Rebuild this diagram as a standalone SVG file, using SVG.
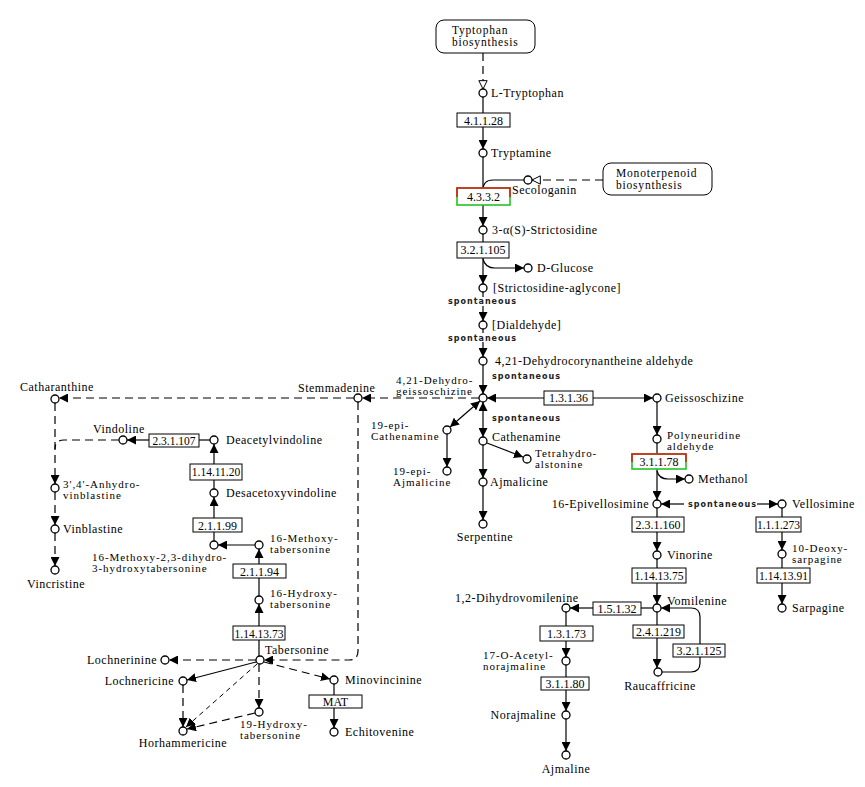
<svg xmlns="http://www.w3.org/2000/svg" width="865" height="787" viewBox="0 0 865 787">
<style>
text{font-family:"Liberation Serif","Times New Roman",serif;font-size:12px;letter-spacing:0.5px;fill:#000}
.t2{font-size:11px;letter-spacing:0.95px}
.mpt{font-size:11.5px;letter-spacing:0.8px}
.ec{font-size:12px;letter-spacing:0;text-anchor:middle}
.ecs{font-size:11.5px}
.m{text-anchor:middle}
.r{text-anchor:end}
.sp{font-family:"DejaVu Sans","Liberation Sans",sans-serif;font-size:8px;font-weight:bold;letter-spacing:1px;fill:#222}
circle{fill:#fff;stroke:#000;stroke-width:1.3}
.bx{fill:#fff;stroke:#000;stroke-width:1}
.hl{fill:#fff;stroke:#22c322;stroke-width:1.6}
.hr{fill:none;stroke:#e01818;stroke-width:1.6}
#connectors path{fill:none;stroke:#000;stroke-width:1.2}
#connectors .d{stroke-dasharray:8,5}
#connectors .dt{stroke-dasharray:5,4;stroke-width:1}
</style>
<defs>
<marker id="a" viewBox="0 0 10 10" refX="10" refY="5" markerWidth="9" markerHeight="9" markerUnits="userSpaceOnUse" orient="auto-start-reverse"><path d="M0,0 L10,5 L0,10 z" fill="#000" stroke="none"/></marker>
<marker id="o" viewBox="0 0 12 12" refX="11" refY="6" markerWidth="10" markerHeight="10" markerUnits="userSpaceOnUse" orient="auto"><path d="M1,1 L11,6 L1,11 z" fill="#fff" stroke="#000" stroke-width="1.2" stroke-dasharray="none"/></marker>
</defs>
<g id="connectors">
<path class="d" d="M483,53 V89" marker-end="url(#o)"/>
<path d="M483,97 V113"/>
<path d="M483,127 V149" marker-end="url(#a)"/>
<path d="M483,157 V188"/>
<path class="d" d="M603,180 H532" marker-end="url(#o)"/>
<path d="M524,180 H493 Q483,180 483,190"/>
<path d="M483,205 V226" marker-end="url(#a)"/>
<path d="M483,234 V242"/>
<path d="M483,258 V284" marker-end="url(#a)"/>
<path d="M483,259 Q485,268 495,268 H524" marker-end="url(#a)"/>
<path d="M483,292 V297"/>
<path d="M483,306 V321" marker-end="url(#a)"/>
<path d="M483,329 V333"/>
<path d="M483,342 V357" marker-end="url(#a)"/>
<path d="M483,365 V394" marker-end="url(#a)"/>
<path class="d" d="M479,398 H362" marker-end="url(#a)"/>
<path class="d" d="M354,398 H59" marker-end="url(#a)"/>
<path d="M544,398 H487" marker-end="url(#a)"/>
<path d="M593,398 H653" marker-end="url(#a)"/>
<path class="d" d="M358,402 V651 Q358,660 349,660 H264" marker-end="url(#a)"/>
<path d="M483,402 V437" marker-start="url(#a)" marker-end="url(#a)"/>
<path d="M450,427 L480,401" marker-start="url(#a)" marker-end="url(#a)"/>
<path d="M447,434 V467" marker-end="url(#a)"/>
<path d="M487,443 L523,457" marker-end="url(#a)"/>
<path d="M483,445 V478" marker-end="url(#a)"/>
<path d="M483,486 V520" marker-end="url(#a)"/>
<path d="M657,402 V435" marker-end="url(#a)"/>
<path d="M657,443 V454"/>
<path d="M657,469 V500" marker-end="url(#a)"/>
<path d="M657,471 Q659,479 668,479 H685" marker-end="url(#a)"/>
<path d="M684,504 H661" marker-end="url(#a)"/>
<path d="M757,504 H778" marker-end="url(#a)"/>
<path d="M657,508 V517"/>
<path d="M657,532 V551" marker-end="url(#a)"/>
<path d="M657,559 V568"/>
<path d="M657,583 V604" marker-end="url(#a)"/>
<path d="M782,508 V517"/>
<path d="M782,532 V550" marker-end="url(#a)"/>
<path d="M782,558 V568"/>
<path d="M782,583 V604" marker-end="url(#a)"/>
<path d="M653,608 H641"/>
<path d="M593,608 H570" marker-end="url(#a)"/>
<path d="M566,612 V626"/>
<path d="M566,641 V657" marker-end="url(#a)"/>
<path d="M566,665 V677"/>
<path d="M566,690 V711" marker-end="url(#a)"/>
<path d="M566,719 V751" marker-end="url(#a)"/>
<path d="M657,612 V625"/>
<path d="M657,638 V668" marker-end="url(#a)"/>
<path d="M662,672 H691 Q700,672 700,663 V617 Q700,608 691,608 H661" marker-end="url(#a)"/>
<path class="d" d="M55,403 V484" marker-end="url(#a)"/>
<path class="d" d="M119,440 H64 Q55,440 55,449"/>
<path class="d" d="M55,492 V525" marker-end="url(#a)"/>
<path class="d" d="M55,533 V566" marker-end="url(#a)"/>
<path d="M149,440 H127" marker-end="url(#a)"/>
<path d="M199,440 H210"/>
<path d="M214,464 V444" marker-end="url(#a)"/>
<path d="M214,489 V480"/>
<path d="M214,518 V497" marker-end="url(#a)"/>
<path d="M214,541 V532"/>
<path d="M255,545 H218" marker-end="url(#a)"/>
<path d="M259,564 V549" marker-end="url(#a)"/>
<path d="M259,596 V578"/>
<path d="M259,626 V604" marker-end="url(#a)"/>
<path d="M259,656 V640"/>
<path class="d" d="M256,660 H169" marker-end="url(#a)"/>
<path d="M256,662 L187,680" marker-end="url(#a)"/>
<path class="d" d="M183,685 V727" marker-end="url(#a)"/>
<path class="dt" d="M257,664 L186,727" marker-end="url(#a)"/>
<path class="d" d="M255,713 L187,729" marker-end="url(#a)"/>
<path class="d" d="M259,664 V708" marker-end="url(#a)"/>
<path class="d" d="M264,662 L330,679" marker-end="url(#a)"/>
<path d="M334,684 V695"/>
<path d="M334,708 V728" marker-end="url(#a)"/>
</g>
<g id="map-tryptophan"><rect x="436" y="20" width="99" height="33" rx="8" class="bx"/><text class="mpt" x="452" y="34">Typtophan</text><text class="mpt" x="452" y="45.5">biosynthesis</text></g>
<g id="map-monoterpenoid"><rect x="603" y="163" width="109" height="32" rx="8" class="bx"/><text class="mpt" x="616" y="177">Monoterpenoid</text><text class="mpt" x="616" y="188.5">biosynthesis</text></g>
<g id="spont-1"><text class="sp" x="448" y="304">spontaneous</text></g>
<g id="spont-2"><text class="sp" x="448" y="341">spontaneous</text></g>
<g id="spont-3"><text class="sp" x="492" y="379">spontaneous</text></g>
<g id="spont-4"><text class="sp" x="492" y="421">spontaneous</text></g>
<g id="spont-5"><text class="sp" x="688" y="507">spontaneous</text></g>
<g id="c-ltrp"><circle cx="483" cy="93" r="4"/><text x="491" y="97">L-Tryptophan</text></g>
<g id="c-tryptamine"><circle cx="483" cy="153" r="4"/><text x="491" y="157">Tryptamine</text></g>
<g id="c-secologanin"><circle cx="528" cy="180" r="4"/><text x="512" y="194">Secologanin</text></g>
<g id="c-strictosidine"><circle cx="483" cy="230" r="4"/><text x="492" y="234">3-α(S)-Strictosidine</text></g>
<g id="c-glucose"><circle cx="528" cy="268" r="4"/><text x="537" y="272">D-Glucose</text></g>
<g id="c-aglycone"><circle cx="483" cy="288" r="4"/><text x="493" y="292">[Strictosidine-aglycone]</text></g>
<g id="c-dialdehyde"><circle cx="483" cy="325" r="4"/><text x="492" y="329">[Dialdehyde]</text></g>
<g id="c-dhca"><circle cx="483" cy="361" r="4"/><text x="495" y="365">4,21-Dehydrocorynantheine aldehyde</text></g>
<g id="c-dhgeiss"><circle cx="483" cy="398" r="4"/><text class="t2" x="396" y="384">4,21-Dehydro-</text><text class="t2" x="396" y="395">geissoschizine</text></g>
<g id="c-stemmadenine"><circle cx="358" cy="398" r="4"/><text x="298" y="392">Stemmadenine</text></g>
<g id="c-catharanthine"><circle cx="55" cy="399" r="4"/><text x="20" y="391">Catharanthine</text></g>
<g id="c-geissoschizine"><circle cx="657" cy="398" r="4"/><text x="665" y="402">Geissoschizine</text></g>
<g id="c-19epicath"><circle cx="447" cy="430" r="4"/><text class="t2" x="371" y="429">19-epi-</text><text class="t2" x="371" y="440">Cathenamine</text></g>
<g id="c-cathenamine"><circle cx="483" cy="441" r="4"/><text x="492" y="441">Cathenamine</text></g>
<g id="c-19epiajm"><circle cx="447" cy="471" r="4"/><text class="t2" x="393" y="475">19-epi-</text><text class="t2" x="393" y="486">Ajmalicine</text></g>
<g id="c-tha"><circle cx="527" cy="459" r="4"/><text class="t2" x="535" y="457">Tetrahydro-</text><text class="t2" x="535" y="468">alstonine</text></g>
<g id="c-ajmalicine"><circle cx="483" cy="482" r="4"/><text x="490" y="486">Ajmalicine</text></g>
<g id="c-serpentine"><circle cx="483" cy="524" r="4"/><text class="m" x="485" y="541">Serpentine</text></g>
<g id="c-polyneuridine"><circle cx="657" cy="439" r="4"/><text class="t2" x="667" y="439">Polyneuridine</text><text class="t2" x="667" y="450">aldehyde</text></g>
<g id="c-methanol"><circle cx="689" cy="479" r="4"/><text x="698" y="483">Methanol</text></g>
<g id="c-epivellosimine"><circle cx="657" cy="504" r="4"/><text class="r" x="649" y="508">16-Epivellosimine</text></g>
<g id="c-vellosimine"><circle cx="782" cy="504" r="4"/><text x="792" y="508">Vellosimine</text></g>
<g id="c-vinorine"><circle cx="657" cy="555" r="4"/><text x="667" y="559">Vinorine</text></g>
<g id="c-deoxysarpagine"><circle cx="782" cy="554" r="4"/><text class="t2" x="792" y="552">10-Deoxy-</text><text class="t2" x="792" y="563">sarpagine</text></g>
<g id="c-vomilenine"><circle cx="657" cy="608" r="4"/><text x="667" y="605">Vomilenine</text></g>
<g id="c-sarpagine"><circle cx="782" cy="608" r="4"/><text x="792" y="612">Sarpagine</text></g>
<g id="c-dihydrovomilenine"><circle cx="566" cy="608" r="4"/><text x="455" y="602">1,2-Dihydrovomilenine</text></g>
<g id="c-acetylnorajmaline"><circle cx="566" cy="661" r="4"/><text class="t2" x="483" y="659">17-O-Acetyl-</text><text class="t2" x="483" y="670">norajmaline</text></g>
<g id="c-norajmaline"><circle cx="566" cy="715" r="4"/><text class="r" x="556" y="719">Norajmaline</text></g>
<g id="c-ajmaline"><circle cx="566" cy="755" r="4"/><text class="m" x="566" y="773">Ajmaline</text></g>
<g id="c-raucaffricine"><circle cx="658" cy="672" r="4"/><text class="m" x="660" y="690">Raucaffricine</text></g>
<g id="c-vindoline"><circle cx="123" cy="440" r="4"/><text x="93" y="433">Vindoline</text></g>
<g id="c-deacetylvindoline"><circle cx="214" cy="440" r="4"/><text x="226" y="444">Deacetylvindoline</text></g>
<g id="c-desacetoxyvindoline"><circle cx="214" cy="493" r="4"/><text x="226" y="497">Desacetoxyvindoline</text></g>
<g id="c-anhydrovinblastine"><circle cx="55" cy="488" r="4"/><text class="t2" x="63" y="488">3',4'-Anhydro-</text><text class="t2" x="63" y="499">vinblastine</text></g>
<g id="c-vinblastine"><circle cx="55" cy="529" r="4"/><text x="63" y="533">Vinblastine</text></g>
<g id="c-vincristine"><circle cx="55" cy="570" r="4"/><text class="m" x="56" y="588">Vincristine</text></g>
<g id="c-mdht"><circle cx="214" cy="545" r="4"/><text class="t2" x="92" y="561">16-Methoxy-2,3-dihydro-</text><text class="t2" x="92" y="572">3-hydroxytabersonine</text></g>
<g id="c-methoxytab"><circle cx="259" cy="545" r="4"/><text class="t2" x="270" y="542">16-Methoxy-</text><text class="t2" x="270" y="553">tabersonine</text></g>
<g id="c-hydroxytab"><circle cx="259" cy="600" r="4"/><text class="t2" x="270" y="597">16-Hydroxy-</text><text class="t2" x="270" y="608">tabersonine</text></g>
<g id="c-tabersonine"><circle cx="260" cy="660" r="4"/><text x="265" y="654">Tabersonine</text></g>
<g id="c-lochnerinine"><circle cx="165" cy="660" r="4"/><text class="r" x="157" y="664">Lochnerinine</text></g>
<g id="c-lochnericine"><circle cx="183" cy="681" r="4"/><text class="r" x="174" y="685">Lochnericine</text></g>
<g id="c-horhammericine"><circle cx="183" cy="731" r="4"/><text class="m" x="183" y="747">Horhammericine</text></g>
<g id="c-19hydroxytab"><circle cx="259" cy="712" r="4"/><text class="t2" x="240" y="728">19-Hydroxy-</text><text class="t2" x="240" y="739">tabersonine</text></g>
<g id="c-minovincinine"><circle cx="334" cy="680" r="4"/><text x="345" y="684">Minovincinine</text></g>
<g id="c-echitovenine"><circle cx="334" cy="732" r="4"/><text x="345" y="736">Echitovenine</text></g>
<g id="e-4.1.1.28"><rect x="457" y="113" width="53" height="14" class="bx"/><text class="ec" x="483.5" y="124.5">4.1.1.28</text></g>
<g id="e-4.3.3.2"><rect x="457" y="188" width="53" height="17" class="hl"/><path d="M457,197 V188 H510 V197" class="hr"/><text class="ec" x="483.5" y="201">4.3.3.2</text></g>
<g id="e-3.2.1.105"><rect x="457" y="242" width="52" height="16" class="bx"/><text class="ec" x="483" y="254">3.2.1.105</text></g>
<g id="e-1.3.1.36"><rect x="544" y="391" width="49" height="14" class="bx"/><text class="ec" x="568.5" y="402">1.3.1.36</text></g>
<g id="e-3.1.1.78"><rect x="632" y="454" width="54" height="15" class="hl"/><path d="M632,462 V454 H686 V462" class="hr"/><text class="ec" x="659" y="466">3.1.1.78</text></g>
<g id="e-2.3.1.160"><rect x="632" y="517" width="52" height="15" class="bx"/><text class="ec" x="658" y="529">2.3.1.160</text></g>
<g id="e-1.14.13.75"><rect x="632" y="568" width="54" height="15" class="bx"/><text class="ec ecs" x="659" y="580">1.14.13.75</text></g>
<g id="e-1.1.1.273"><rect x="756" y="517" width="45" height="15" class="bx"/><text class="ec ecs" x="778.5" y="529">1.1.1.273</text></g>
<g id="e-1.14.13.91"><rect x="757" y="568" width="53" height="15" class="bx"/><text class="ec ecs" x="783.5" y="580">1.14.13.91</text></g>
<g id="e-1.5.1.32"><rect x="593" y="602" width="48" height="13" class="bx"/><text class="ec" x="617" y="613">1.5.1.32</text></g>
<g id="e-1.3.1.73"><rect x="540" y="626" width="53" height="15" class="bx"/><text class="ec" x="566.5" y="638">1.3.1.73</text></g>
<g id="e-3.1.1.80"><rect x="541" y="677" width="48" height="13" class="bx"/><text class="ec" x="565" y="688">3.1.1.80</text></g>
<g id="e-2.4.1.219"><rect x="633" y="625" width="51" height="13" class="bx"/><text class="ec" x="658.5" y="636">2.4.1.219</text></g>
<g id="e-3.2.1.125"><rect x="673" y="644" width="52" height="13" class="bx"/><text class="ec" x="699" y="655">3.2.1.125</text></g>
<g id="e-2.3.1.107"><rect x="149" y="434" width="50" height="13" class="bx"/><text class="ec ecs" x="174" y="445">2.3.1.107</text></g>
<g id="e-1.14.11.20"><rect x="190" y="464" width="52" height="16" class="bx"/><text class="ec ecs" x="216" y="476">1.14.11.20</text></g>
<g id="e-2.1.1.99"><rect x="193" y="518" width="49" height="14" class="bx"/><text class="ec" x="217.5" y="529.5">2.1.1.99</text></g>
<g id="e-2.1.1.94"><rect x="233" y="564" width="53" height="14" class="bx"/><text class="ec" x="259.5" y="575.5">2.1.1.94</text></g>
<g id="e-1.14.13.73"><rect x="233" y="626" width="52" height="14" class="bx"/><text class="ec ecs" x="259" y="637.5">1.14.13.73</text></g>
<g id="e-MAT"><rect x="309" y="695" width="53" height="13" class="bx"/><text class="ec" x="335.5" y="706">MAT</text></g>
</svg>
